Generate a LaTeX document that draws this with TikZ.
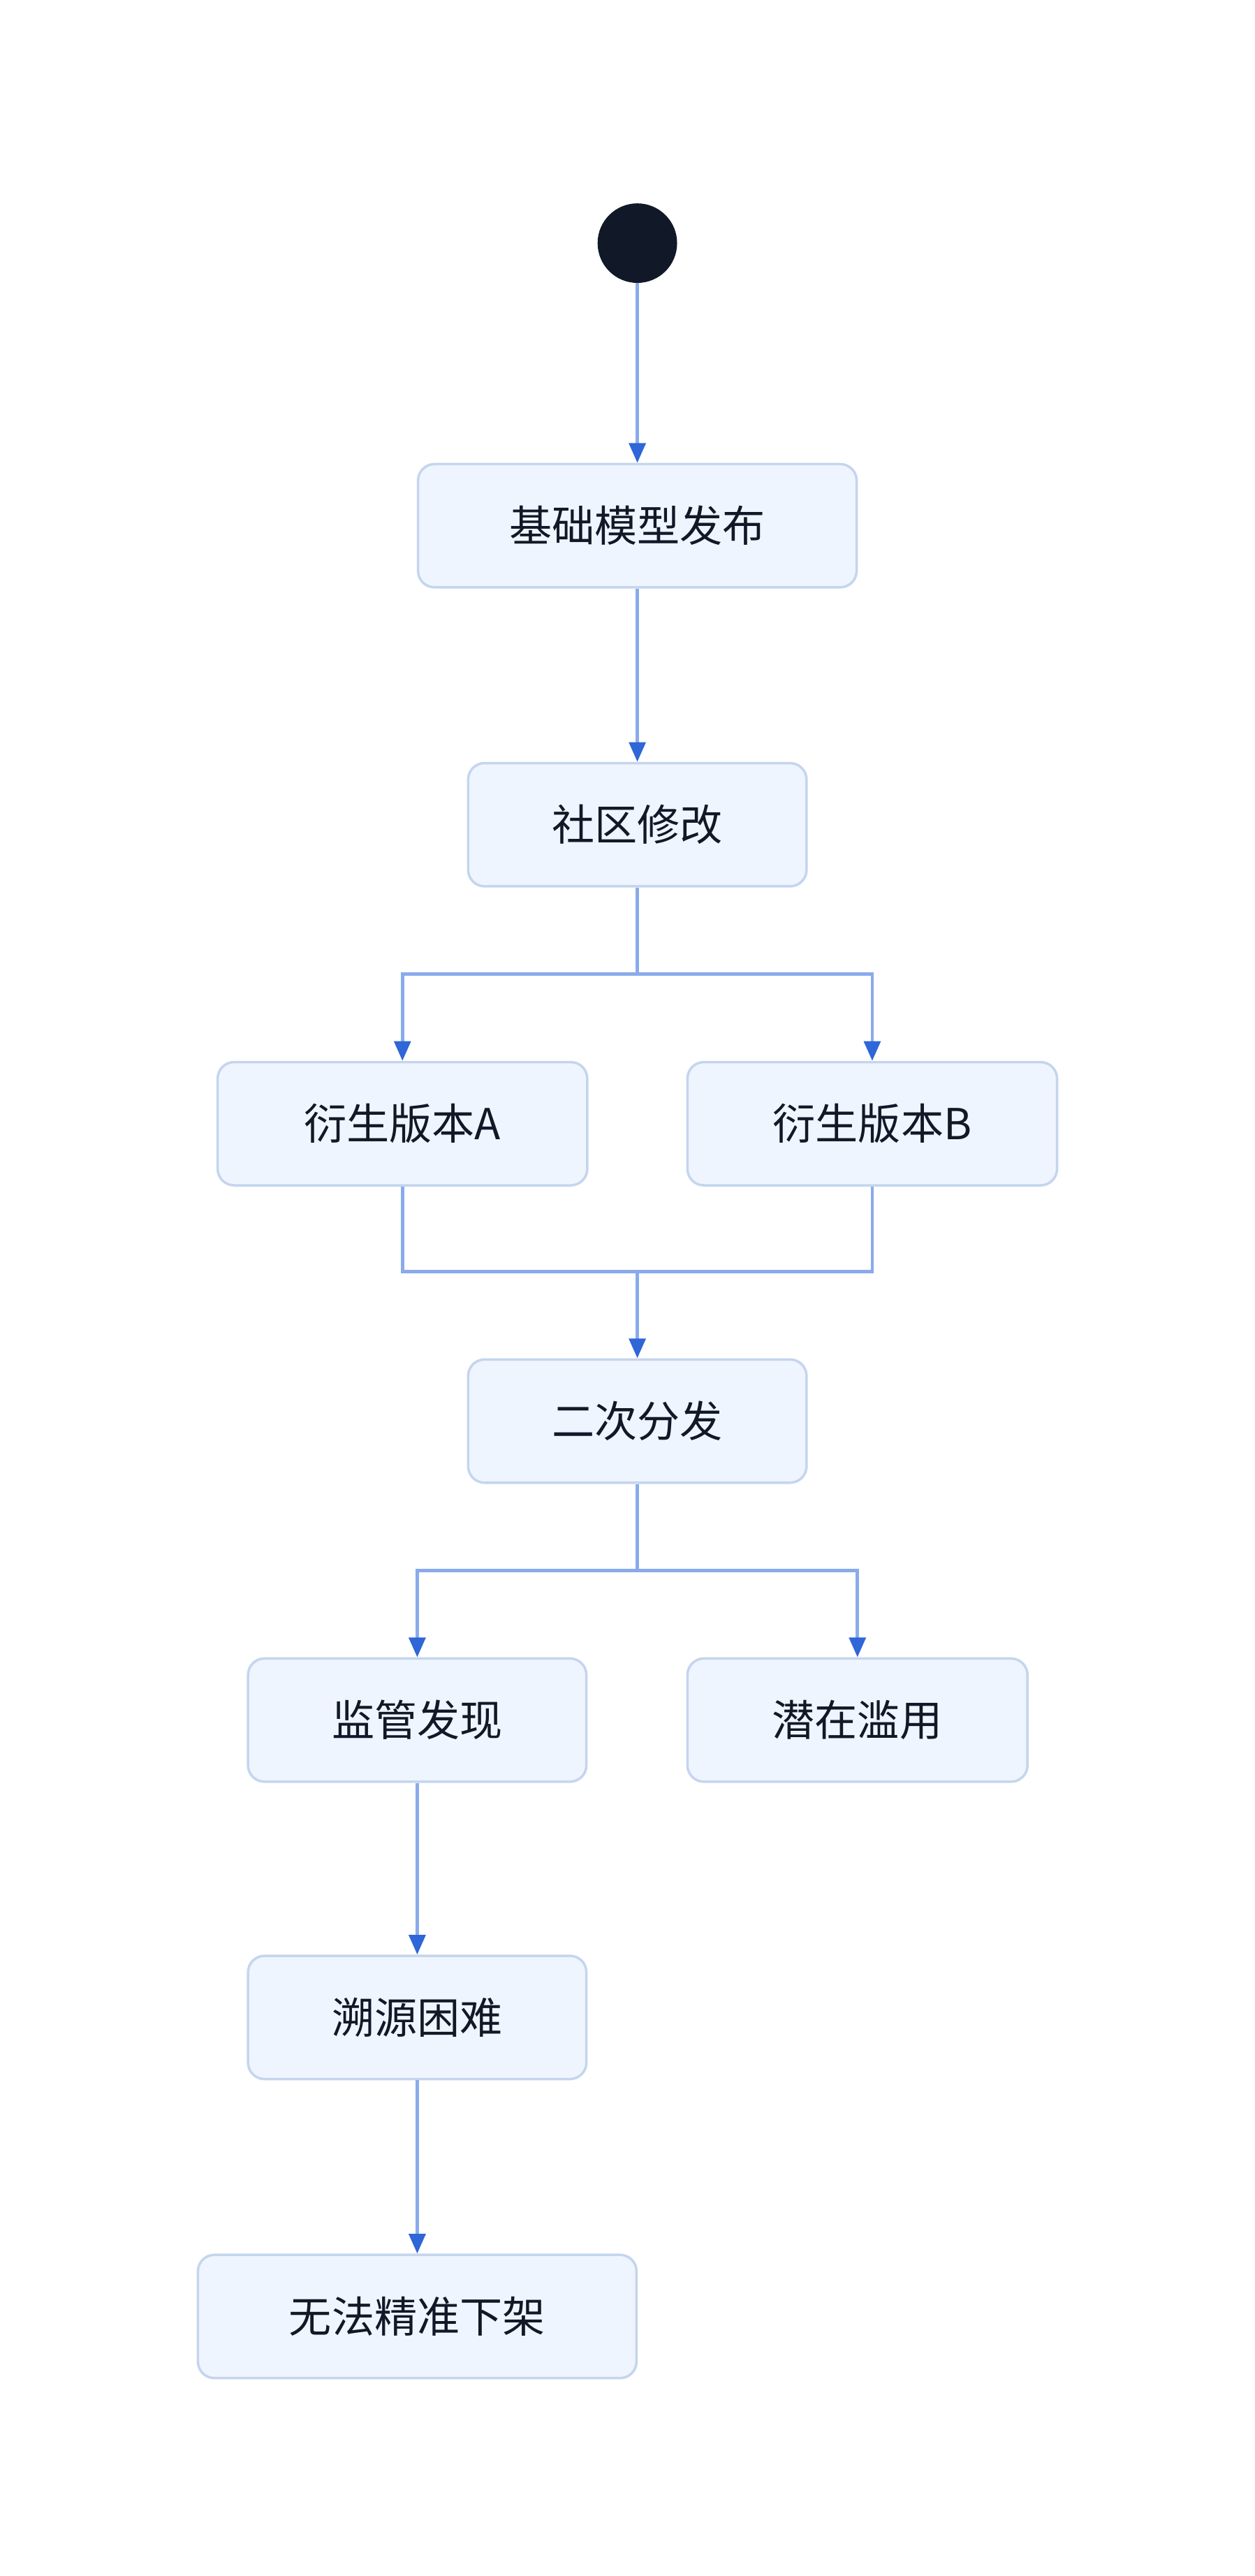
\documentclass[tikz,border=0pt]{standalone}
\usepackage{fontspec}
\setmainfont{Noto Sans CJK SC}
\usetikzlibrary{arrows.meta}
\definecolor{boxfill}{HTML}{EFF5FE}
\definecolor{boxline}{HTML}{C5D5EE}
\definecolor{flowline}{HTML}{8AABEB}
\definecolor{tip}{HTML}{2F66D8}
\definecolor{ink}{HTML}{111827}
\tikzset{
  stage/.style={draw=boxline, fill=boxfill, line width=1.5pt, rounded corners=10pt,
    minimum height=75pt, text=ink, font=\fontsize{26}{30}\selectfont, inner sep=0pt},
  flow/.style={draw=flowline, line width=2pt, -{Triangle[length=12pt,width=10pt,color=tip]}},
  link/.style={draw=flowline, line width=2pt}
}
\begin{document}
\begin{tikzpicture}[x=1pt,y=-1pt]
  \useasboundingbox (0,0) rectangle (764,1568);
  % start
  \node[circle, fill=ink, draw=ink, minimum size=48pt, inner sep=0pt] (start) at (388,148) {};
  % stages
  \node[stage, minimum width=267pt] (release) at (388,320) {基础模型发布};
  \node[stage, minimum width=206pt] (modify) at (388,502) {社区修改};
  \node[stage, minimum width=225pt] (verA) at (245,684) {衍生版本A};
  \node[stage, minimum width=225pt] (verB) at (531,684) {衍生版本B};
  \node[stage, minimum width=206pt] (redist) at (388,865) {二次分发};
  \node[stage, minimum width=206pt] (detect) at (254,1047) {监管发现};
  \node[stage, minimum width=207pt] (abuse) at (522,1047) {潜在滥用};
  \node[stage, minimum width=206pt] (trace) at (254,1228) {溯源困难};
  \node[stage, minimum width=267pt] (remove) at (254,1410) {无法精准下架};
  % branch points
  \coordinate (fork1) at (388,593);
  \coordinate (join1) at (388,774);
  \coordinate (fork2) at (388,956);
  % connectors
  \draw[flow] (start) -- (release);
  \draw[flow] (release) -- (modify);
  \draw[link] (modify) -- (fork1);
  \draw[flow] (fork1) -| (verA);
  \draw[flow] (fork1) -| (verB);
  \draw[link] (verA) |- (join1);
  \draw[link] (verB) |- (join1);
  \draw[flow] (join1) -- (redist);
  \draw[link] (redist) -- (fork2);
  \draw[flow] (fork2) -| (detect);
  \draw[flow] (fork2) -| (abuse);
  \draw[flow] (detect) -- (trace);
  \draw[flow] (trace) -- (remove);
\end{tikzpicture}
\end{document}
